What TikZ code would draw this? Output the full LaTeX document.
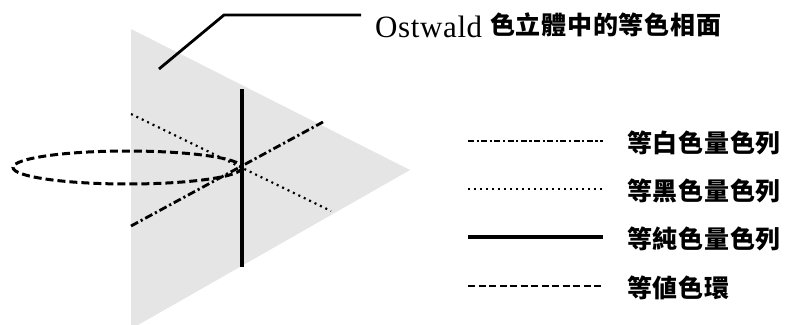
\documentclass[tikz,border=0pt]{standalone}
\usepackage{fontspec}
\setmainfont{Liberation Serif}
\newfontfamily\latinwide[LetterSpace=2]{Liberation Serif}
\newfontfamily\cjk[LetterSpace=3]{Noto Sans CJK TC}
\begin{document}
\begin{tikzpicture}[x=1pt,y=-1pt,
  face/.style={fill=black!10,draw=none},
  wline/.style={line width=2.8pt,dash pattern=on 8pt off 3pt on 2.2pt off 3pt},
  wlegend/.style={line width=2.6pt,dash pattern=on 6pt off 2.5pt on 2.2pt off 2.5pt},
  bline/.style={line width=2.2pt,dash pattern=on 2pt off 4pt},
  pline/.style={line width=3.2pt},
  vline/.style={line width=3pt,dash pattern=on 8pt off 4pt},
  vlegend/.style={line width=2.8pt,dash pattern=on 7pt off 3.5pt},
  leader/.style={line width=2.8pt},
  lab/.style={anchor=base west,inner sep=0pt,font=\fontsize{25}{25}\selectfont\cjk\bfseries}
]
\useasboundingbox (0,0) rectangle (789,324);
\clip (0,0) rectangle (789,324);
% hue plane
\fill[face] (131,29) -- (410,170) -- (131,329) -- cycle;
% points
\coordinate (c) at (242,167);
\coordinate (s1) at (242,89);
\coordinate (s2) at (242,267);
\coordinate (w1) at (131,226);
\coordinate (w2) at (323,122);
\coordinate (b1) at (131,114);
\coordinate (b2) at (331,211);
% series
\draw[bline] (b1) -- (b2);
\draw[wline] (w1) -- (w2);
\draw[vline] (127.5,167.5) ellipse [x radius=114.5, y radius=16.5];
\draw[pline] (s1) -- (s2);
% leader and title
\coordinate (ld1) at (159,69);
\coordinate (ld2) at (224,15);
\coordinate (ld3) at (361,15);
\draw[leader] (ld1) -- (ld2) -- (ld3);
\node[anchor=base west,inner sep=0pt] (title) at (375,37)
  {{\fontsize{31}{31}\selectfont\latinwide Ostwald}\hspace{8pt}\raisebox{3pt}{\fontsize{25}{25}\selectfont\cjk\bfseries 色立體中的等色相面}};
% legend
\coordinate (l1a) at (468,141); \coordinate (l1b) at (603,141);
\coordinate (l2a) at (468,189); \coordinate (l2b) at (603,189);
\coordinate (l3a) at (468,237); \coordinate (l3b) at (603,237);
\coordinate (l4a) at (468,286); \coordinate (l4b) at (603,286);
\draw[wlegend] (l1a) -- (l1b);
\draw[bline] (l2a) -- (l2b);
\draw[pline] (l3a) -- (l3b);
\draw[vlegend] (l4a) -- (l4b);
\node[lab] (t1) at (627,152) {等白色量色列};
\node[lab] (t2) at (627,200) {等黑色量色列};
\node[lab] (t3) at (627,248) {等純色量色列};
\node[lab] (t4) at (627,297) {等値色環};
\end{tikzpicture}
\end{document}
